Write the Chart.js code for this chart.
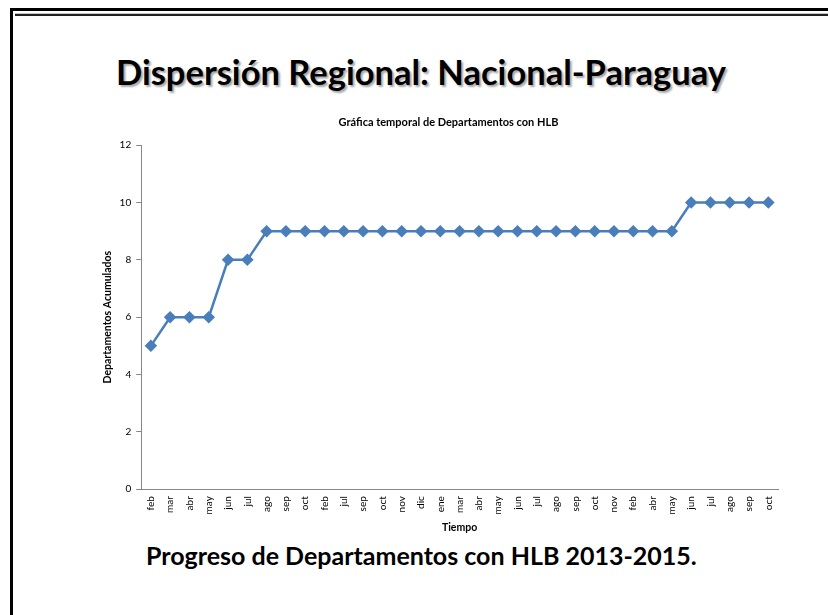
<!DOCTYPE html>
<html>
<head>
<meta charset="utf-8">
<script src="https://cdn.jsdelivr.net/npm/chart.js@4.4.0/dist/chart.umd.min.js"></script>
<style>
  html, body { margin: 0; padding: 0; background: #fff; }
  body { width: 828px; height: 615px; position: relative; overflow: hidden; font-family: Lato, "Open Sans", sans-serif; }
  .frame { position: absolute; left: 10px; top: 8px; width: 840px; height: 640px; border-left: 3px solid #000; border-top: 3px solid #000; }
  .rule { position: absolute; left: 15px; top: 13px; width: 820px; height: 1px; background: #c8c8c8; border-bottom: 2px solid #222; }
  .heading { position: absolute; left: 0; width: 842px; top: 51px; text-align: center; font-weight: bold; font-size: 34.5px; color: #000; text-shadow: 2px 2px 2px rgba(0,0,0,0.35); }
  .footer { position: absolute; left: 146px; top: 540px; font-weight: bold; font-size: 25px; color: #000; }
  #wrap { position: absolute; left: 0; top: 100px; width: 828px; height: 434px; }
</style>
</head>
<body>
<div class="frame"></div>
<div class="rule"></div>
<div class="heading">Dispersión Regional: Nacional-Paraguay</div>
<div id="wrap"><canvas id="grafica"></canvas></div>
<div class="footer">Progreso de Departamentos con HLB 2013-2015.</div>
<script>
var meses = ["feb","mar","abr","may","jun","jul","ago","sep","oct","feb","jul","sep","oct","nov","dic","ene","mar","abr","may","jun","jul","ago","sep","oct","nov","feb","abr","may","jun","jul","ago","sep","oct"];
var acumulados = [5,6,6,6,8,8,9,9,9,9,9,9,9,9,9,9,9,9,9,9,9,9,9,9,9,9,9,9,10,10,10,10,10];
var yTicks = [0,2,4,6,8,10,12];

var azul = "#4a7ebb";
var gris = "#868686";

// el titulo en Excel queda centrado un poco mas a la derecha
var moverTitulo = {
	id: 'moverTitulo',
	afterLayout: function(chart) {
		if (chart.titleBlock) {
			chart.titleBlock.left += 9;
			chart.titleBlock.right += 9;
		}
	}
};

var ctx = document.getElementById("grafica");
var grafica = new Chart(ctx, {
	type: 'line',
	data: {
		labels: meses,
		datasets: [{
			label: 'Departamentos Acumulados',
			data: acumulados,
			borderColor: azul,
			backgroundColor: azul,
			borderWidth: 2.5,
			pointStyle: 'rectRot',
			pointRadius: 4.5,
			pointBackgroundColor: azul,
			pointBorderColor: azul,
			tension: 0
		}]
	},
	options: {
		responsive: true,
		maintainAspectRatio: false,
		animation: false,
		layout: { padding: { left: 101, right: 50, top: 0, bottom: 0 } },
		plugins: {
			legend: { display: false },
			tooltip: { enabled: false },
			title: {
				display: true,
				text: 'Gráfica temporal de Departamentos con HLB',
				color: '#000',
				font: { family: 'Lato', size: 11, weight: 'bold' },
				padding: { top: 16, bottom: 16 }
			}
		},
		scales: {
			x: {
				offset: true,
				grid: { display: false, drawTicks: false },
				border: { display: true, color: gris, width: 1 },
				ticks: {
					minRotation: 90, maxRotation: 90, autoSkip: false,
					color: '#000', padding: 7,
					font: { family: 'Lato', size: 10 }
				},
				title: {
					display: true, text: 'Tiempo', color: '#000',
					font: { family: 'Lato', size: 10.5, weight: 'bold' },
					padding: { top: 0, bottom: 0 }
				}
			},
			y: {
				min: 0, max: 12,
				afterBuildTicks: function(axis) { axis.ticks = yTicks.map(function(v) { return { value: v }; }); },
				grid: { drawOnChartArea: false, drawTicks: true, tickLength: 5, color: gris },
				border: { display: true, color: gris, width: 1 },
				ticks: { color: '#000', padding: 5, font: { family: 'Lato', size: 10 } },
				title: {
					display: true, text: 'Departamentos Acumulados', color: '#000',
					font: { family: 'Lato', size: 10.5, weight: 'bold' },
					padding: { top: 0, bottom: 1 }
				}
			}
		}
	},
	plugins: [moverTitulo]
});
</script>
</body>
</html>
